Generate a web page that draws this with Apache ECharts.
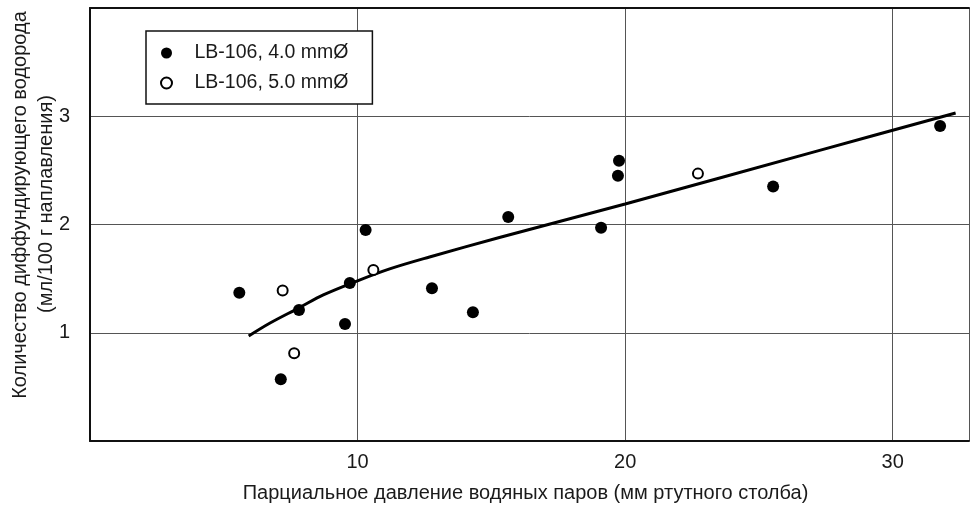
<!DOCTYPE html>
<html>
<head>
<meta charset="utf-8">
<script src="https://cdn.jsdelivr.net/npm/echarts@6/dist/echarts.min.js"></script>
<style>
  html, body { margin: 0; padding: 0; background: #fff; }
  #chart { width: 972px; height: 508px; }
</style>
</head>
<body>
<div id="chart"></div>
<script>
// Electrode LB-106, 4.0 mm diameter: [partial pressure, diffusible hydrogen]
const series40 = [
  [5.58, 1.37], [7.13, 0.57], [7.81, 1.21], [9.53, 1.08], [9.71, 1.46],
  [10.30, 1.95], [12.78, 1.41], [14.31, 1.19], [15.63, 2.07], [19.10, 1.97],
  [19.73, 2.45], [19.77, 2.59], [25.53, 2.35], [31.77, 2.91]
];
// Electrode LB-106, 5.0 mm diameter
const series50 = [
  [7.20, 1.39], [7.63, 0.81], [10.59, 1.58], [22.72, 2.47]
];
// Trend curve drawn through the cloud
const trend = [
  [5.93, 0.97], [6.73, 1.09], [7.81, 1.23], [8.72, 1.35], [10.0, 1.48],
  [11.2, 1.59], [12.69, 1.70], [15.3, 1.88], [20.0, 2.19], [27.2, 2.68],
  [32.35, 3.03]
];
const xTicks = [10, 20, 30];
const yTicks = [1, 2, 3];
const seriesNames = ['LB-106, 4.0 mmØ', 'LB-106, 5.0 mmØ'];
const xTitle = 'Парциальное давление водяных паров (мм ртутного столба)';
const yTitle1 = 'Количество диффундирующего водорода';
const yTitle2 = '(мл/100 г наплавления)';

const FONT = '"Liberation Sans", Arial, sans-serif';
const chart = echarts.init(document.getElementById('chart'), null, { renderer: 'canvas' });

chart.setOption({
  animation: false,
  backgroundColor: '#fff',
  textStyle: { fontFamily: FONT, color: '#1a1a1a' },
  grid: { left: 90, right: 0, top: 8, bottom: 65.5, containLabel: false },
  legend: {
    data: seriesNames,
    orient: 'vertical',
    left: 146,
    top: 31,
    backgroundColor: '#fff',
    borderColor: '#111',
    borderWidth: 1.5,
    borderRadius: 0,
    padding: [12, 24, 11, 14],
    itemGap: 10,
    itemWidth: 14,
    itemHeight: 11,
    textStyle: { fontFamily: FONT, fontSize: 19.5, color: '#1a1a1a', padding: [0, 0, 0, 16] }
  },
  xAxis: [{
    type: 'value',
    min: 0,
    max: 32.85,
    interval: 10,
    name: xTitle,
    nameLocation: 'middle',
    nameGap: 42,
    nameTextStyle: { fontFamily: FONT, fontSize: 20, color: '#1a1a1a', padding: [0, 8, 0, 0] },
    axisLine: { show: true, onZero: false, lineStyle: { color: '#111', width: 2 } },
    axisTick: { show: false },
    axisLabel: {
      fontFamily: FONT, fontSize: 20, color: '#1a1a1a', margin: 11,
      formatter: v => (xTicks.indexOf(v) >= 0 ? String(v) : '')
    },
    splitLine: { show: true, lineStyle: { color: '#555', width: 1 } }
  }, {
    // top frame line
    type: 'value',
    position: 'top',
    min: 0,
    max: 32.85,
    axisLine: { show: true, onZero: false, lineStyle: { color: '#111', width: 2 } },
    axisTick: { show: false },
    axisLabel: { show: false },
    splitLine: { show: false }
  }],
  yAxis: {
    type: 'value',
    min: 0,
    max: 4,
    interval: 1,
    axisLine: { show: true, onZero: false, lineStyle: { color: '#111', width: 2 } },
    axisTick: { show: false },
    axisLabel: {
      fontFamily: FONT, fontSize: 20, color: '#1a1a1a', margin: 20,
      formatter: v => (yTicks.indexOf(v) >= 0 ? String(v) : '')
    },
    splitLine: { show: true, lineStyle: { color: '#555', width: 1 } }
  },
  graphic: [
    {
      type: 'text', x: 20, y: 205, rotation: Math.PI / 2,
      style: { text: yTitle1, font: '20px ' + FONT, fill: '#1a1a1a', align: 'center', verticalAlign: 'middle' }
    },
    {
      type: 'text', x: 46, y: 204, rotation: Math.PI / 2,
      style: { text: yTitle2, font: '20px ' + FONT, fill: '#1a1a1a', align: 'center', verticalAlign: 'middle' }
    }
  ],
  series: [
    {
      name: 'trend',
      type: 'line',
      data: trend,
      smooth: 0.35,
      showSymbol: false,
      lineStyle: { color: '#000', width: 3 },
      z: 3
    },
    {
      name: seriesNames[0],
      type: 'scatter',
      data: series40,
      symbol: 'circle',
      symbolSize: 12,
      itemStyle: { color: '#000', opacity: 1 },
      z: 4
    },
    {
      name: seriesNames[1],
      type: 'scatter',
      data: series50,
      symbol: 'circle',
      symbolSize: 10,
      itemStyle: { color: '#fff', borderColor: '#000', borderWidth: 2, opacity: 1 },
      z: 4
    }
  ]
});
</script>
</body>
</html>
